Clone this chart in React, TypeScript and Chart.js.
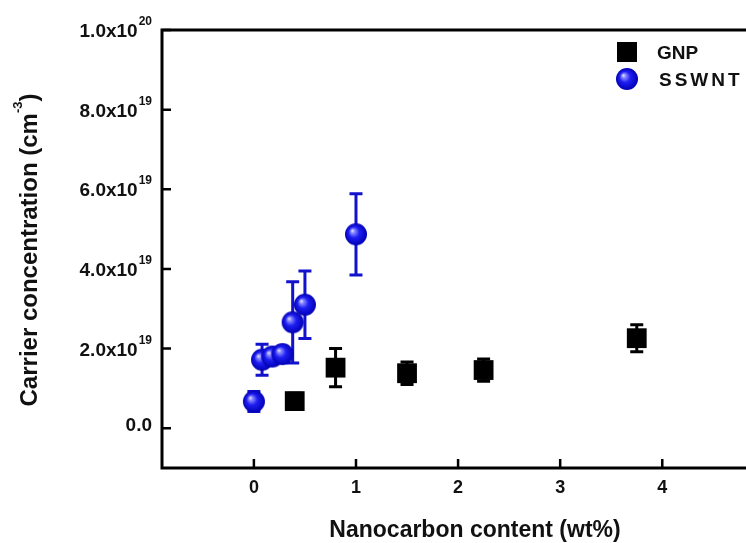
import React, { useEffect, useRef } from "react";
import { Chart, registerables } from "chart.js";

Chart.register(...registerables);

// ---- data ----
const gnpX = [0.4, 0.8, 1.5, 2.25, 3.75];
const gnpY = [0.68e19, 1.52e19, 1.38e19, 1.46e19, 2.26e19];
const gnpErr = [0.2e19, 0.48e19, 0.28e19, 0.28e19, 0.34e19];

const swntX = [0, 0.08, 0.18, 0.28, 0.38, 0.5, 1.0];
const swntY = [0.67e19, 1.72e19, 1.8e19, 1.86e19, 2.66e19, 3.1e19, 4.87e19];
const swntErr = [0.25e19, 0.39e19, 0.14e19, 0.14e19, 1.02e19, 0.85e19, 1.02e19];

const xTickValues = [0, 1, 2, 3, 4];
const yTickValues = [0, 2e19, 4e19, 6e19, 8e19, 1e20];
const yTickMantissa = ["0.0", "2.0x10", "4.0x10", "6.0x10", "8.0x10", "1.0x10"];
const yTickExponent = ["", "19", "19", "19", "19", "20"];

const seriesNames = ["GNP", "SSWNT"];
const xTitle = "Nanocarbon content (wt%)";
const yTitleMain = "Carrier concentration (cm";
const yTitleSup = "-3";
const yTitleEnd = ")";

const FONT = '"Liberation Sans", Arial, Helvetica, sans-serif';
const INK = "#111111";
const BLUE_BAR = "#1212cc";

function makeSphere(r: number): HTMLCanvasElement {
  const c = document.createElement("canvas");
  const s = Math.ceil(r * 2 + 2);
  c.width = s;
  c.height = s;
  const g = c.getContext("2d")!;
  const cx = s / 2;
  const cy = s / 2;
  const grad = g.createRadialGradient(cx - r * 0.35, cy - r * 0.35, 0, cx, cy, r);
  grad.addColorStop(0, "#f0f0ff");
  grad.addColorStop(0.18, "#8a8aff");
  grad.addColorStop(0.5, "#1e1ef2");
  grad.addColorStop(1, "#0000b4");
  g.fillStyle = grad;
  g.beginPath();
  g.arc(cx, cy, r, 0, Math.PI * 2);
  g.fill();
  return c;
}

export default function App() {
  const ref = useRef<HTMLCanvasElement | null>(null);

  useEffect(() => {
    if (!ref.current) return;
    const sphere = makeSphere(11);

    const drawErrors = (chart: any, xs: number[], ys: number[], es: number[], color: string) => {
      const { ctx, scales } = chart;
      const x = scales.x;
      const y = scales.y;
      ctx.save();
      ctx.strokeStyle = color;
      ctx.lineWidth = 3;
      ctx.lineCap = "butt";
      for (let i = 0; i < xs.length; i++) {
        const px = x.getPixelForValue(xs[i]);
        const top = y.getPixelForValue(ys[i] + es[i]);
        const bot = y.getPixelForValue(ys[i] - es[i]);
        ctx.beginPath();
        ctx.moveTo(px, top);
        ctx.lineTo(px, bot);
        ctx.moveTo(px - 6.5, top);
        ctx.lineTo(px + 6.5, top);
        ctx.moveTo(px - 6.5, bot);
        ctx.lineTo(px + 6.5, bot);
        ctx.stroke();
      }
      ctx.restore();
    };

    const custom = {
      id: "custom",
      beforeDatasetsDraw(chart: any) {
        drawErrors(chart, gnpX, gnpY, gnpErr, "#000000");
        drawErrors(chart, swntX, swntY, swntErr, BLUE_BAR);
      },
      afterDraw(chart: any) {
        const { ctx, chartArea: a, scales } = chart;
        const x = scales.x;
        const y = scales.y;
        ctx.save();
        // frame (top, left, bottom)
        ctx.strokeStyle = "#000";
        ctx.lineWidth = 3;
        ctx.lineCap = "square";
        ctx.beginPath();
        ctx.moveTo(chart.width + 5, a.top);
        ctx.lineTo(a.left, a.top);
        ctx.lineTo(a.left, a.bottom);
        ctx.lineTo(chart.width + 5, a.bottom);
        ctx.stroke();

        // inward tick marks
        ctx.lineWidth = 2.5;
        ctx.lineCap = "butt";
        ctx.beginPath();
        for (const v of xTickValues) {
          const px = x.getPixelForValue(v);
          ctx.moveTo(px, a.bottom);
          ctx.lineTo(px, a.bottom - 9);
        }
        for (const v of yTickValues) {
          const py = y.getPixelForValue(v);
          ctx.moveTo(a.left, py);
          ctx.lineTo(a.left + 9, py);
        }
        ctx.stroke();

        // y tick labels with superscript exponents
        ctx.fillStyle = INK;
        ctx.textAlign = "right";
        ctx.textBaseline = "alphabetic";
        const rightEdge = a.left - 10;
        yTickValues.forEach((v, i) => {
          const py = y.getPixelForValue(v);
          const exp = yTickExponent[i];
          if (exp) {
            ctx.font = `bold 12px ${FONT}`;
            const we = ctx.measureText(exp).width;
            ctx.fillText(exp, rightEdge, py - 5);
            ctx.font = `bold 19px ${FONT}`;
            ctx.fillText(yTickMantissa[i], rightEdge - we - 1, py + 7);
          } else {
            ctx.font = `bold 19px ${FONT}`;
            ctx.fillText(yTickMantissa[i], rightEdge, py + 2.5);
          }
        });

        // x tick labels
        ctx.textAlign = "center";
        ctx.font = `bold 18px ${FONT}`;
        for (const v of xTickValues) {
          ctx.fillText(String(v), x.getPixelForValue(v), a.bottom + 25);
        }

        // x title
        ctx.font = `bold 23px ${FONT}`;
        ctx.textAlign = "center";
        ctx.fillText(xTitle, a.left + 313, a.bottom + 69);

        // y title (rotated) with superscript
        ctx.save();
        ctx.translate(a.left - 125, (a.top + a.bottom) / 2 + 1);
        ctx.rotate(-Math.PI / 2);
        ctx.textAlign = "left";
        ctx.font = `bold 24px ${FONT}`;
        const wm = ctx.measureText(yTitleMain).width;
        const we2 = ctx.measureText(yTitleEnd).width;
        ctx.font = `bold 13px ${FONT}`;
        const ws = ctx.measureText(yTitleSup).width;
        let sx = -(wm + ws + we2) / 2;
        ctx.font = `bold 24px ${FONT}`;
        ctx.fillText(yTitleMain, sx, 0);
        sx += wm;
        ctx.font = `bold 13px ${FONT}`;
        ctx.fillText(yTitleSup, sx, -15);
        sx += ws;
        ctx.font = `bold 24px ${FONT}`;
        ctx.fillText(yTitleEnd, sx, 0);
        ctx.restore();

        // legend
        const lx = a.left + 465;
        const ly1 = a.top + 22;
        const ly2 = a.top + 49;
        ctx.fillStyle = "#000";
        ctx.fillRect(lx - 10, ly1 - 10, 20, 20);
        ctx.drawImage(sphere, lx - sphere.width / 2, ly2 - sphere.height / 2);
        ctx.fillStyle = INK;
        ctx.textAlign = "left";
        ctx.font = `bold 19px ${FONT}`;
        ctx.fillText(seriesNames[0], lx + 30, ly1 + 7);
        (ctx as any).letterSpacing = "3px";
        ctx.fillText(seriesNames[1], lx + 32, ly2 + 7);
        (ctx as any).letterSpacing = "0px";
        ctx.restore();
      },
    };

    const chart = new Chart(ref.current, {
      type: "scatter",
      data: {
        datasets: [
          {
            label: seriesNames[1],
            data: swntX.map((v, i) => ({ x: v, y: swntY[i] })),
            pointStyle: sphere as any,
            pointRadius: 11,
            backgroundColor: "#1e1ef2",
            borderWidth: 0,
            order: 0,
          },
          {
            label: seriesNames[0],
            data: gnpX.map((v, i) => ({ x: v, y: gnpY[i] })),
            pointStyle: "rect",
            pointRadius: 14,
            backgroundColor: "#000000",
            borderWidth: 0,
            order: 1,
          },
        ],
      },
      options: {
        animation: false,
        responsive: false,
        layout: { autoPadding: false, padding: { top: 30, left: 0, right: 0, bottom: 0 } },
        plugins: {
          legend: { display: false },
          tooltip: { enabled: false },
          title: { display: false },
        },
        scales: {
          x: {
            type: "linear",
            min: -0.9,
            max: 4.82,
            grid: { display: false, drawTicks: false },
            border: { display: false },
            ticks: { display: false },
            afterBuildTicks: (s: any) => {
              s.ticks = xTickValues.map((v) => ({ value: v }));
            },
            afterFit: (s: any) => {
              s.height = 75;
            },
          },
          y: {
            type: "linear",
            min: -1e19,
            max: 1e20,
            grid: { display: false, drawTicks: false },
            border: { display: false },
            ticks: { display: false },
            afterBuildTicks: (s: any) => {
              s.ticks = yTickValues.map((v) => ({ value: v }));
            },
            afterFit: (s: any) => {
              s.width = 162;
            },
          },
        },
      },
      plugins: [custom],
    });

    return () => chart.destroy();
  }, []);

  return (
    <div style={{ position: "fixed", left: 0, top: 0, width: 746, height: 543, background: "#fff", overflow: "hidden" }}>
      <canvas ref={ref} width={746} height={543} style={{ display: "block" }} />
    </div>
  );
}
